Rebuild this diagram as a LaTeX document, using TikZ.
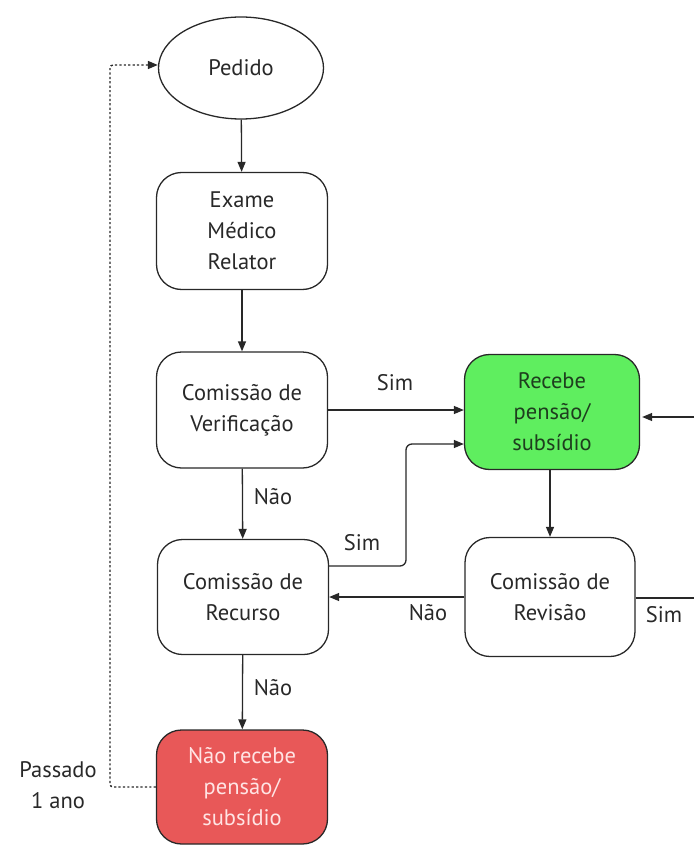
\documentclass[tikz,border=0pt]{standalone}
\usepackage{fontspec}
\setmainfont{PT Sans}
\usetikzlibrary{arrows.meta,calc,shapes.geometric}
\definecolor{boxgreen}{RGB}{95,238,95}
\definecolor{boxred}{RGB}{232,88,88}
\definecolor{redtext}{RGB}{255,228,228}
\definecolor{ink}{RGB}{40,40,40}
\definecolor{greentext}{RGB}{30,62,30}
\begin{document}
\begin{tikzpicture}[x=1pt,y=-1pt,
  every node/.style={font=\fontsize{22.5}{31}\selectfont, text=ink},
  flowbox/.style={draw=ink, line width=1.3pt, rounded corners=25pt, minimum width=171pt, minimum height=117pt, align=center, inner sep=0pt},
  conn/.style={draw=ink, line width=1.3pt, -{Triangle[length=10pt,width=8pt]}},
  plain/.style={draw=ink, line width=1.3pt},
  lbl/.style={inner sep=1pt}]
\useasboundingbox (0,0) rectangle (694,845);
\node[draw=ink, line width=1.3pt, ellipse, minimum width=165pt, minimum height=102pt, inner sep=0pt] (ped) at (241,68) {Pedido};
\node[flowbox] (exa) at (242,231) {Exame\\Médico\\Relator};
\node[flowbox, minimum height=116pt] (ver) at (242,410) {Comissão de\\Verificação};
\node[flowbox, minimum height=115pt] (rec) at (243,597) {Comissão de\\Recurso};
\node[flowbox, fill=boxred, minimum height=114pt, text=redtext] (nao) at (242,787) {Não recebe\\pensão/\\subsídio};
\node[flowbox, fill=boxgreen, minimum width=175pt, minimum height=115pt, text=greentext] (sim) at (552,412) {Recebe\\pensão/\\subsídio};
\node[flowbox, minimum width=170pt, minimum height=119pt] (rev) at (550,597) {Comissão de\\Revisão};
\coordinate (rin) at (694,417);
\coordinate (rout) at (694,598);
\coordinate (dl) at (110,787);
\coordinate (dt) at (110,65);
% connectors
\draw[conn] (ped) -- (exa);
\draw[conn] (exa) -- (ver);
\draw[conn] (ver.east) -- (ver.east -| sim.west);
\node[lbl] (s1) at (395,383) {Sim};
\draw[conn] (ver) -- (rec);
\node[lbl] (n1) at (273,497) {Não};
\draw[conn, rounded corners=6pt] ($(rec.east)+(0,-31)$) -- (406,566) -- (406,444) -- (sim.west |- 0,444);
\node[lbl] (s2) at (362,543) {Sim};
\draw[conn] (sim.south -| 550,0) -- (rev.north);
\draw[conn] (rev.west) -- (rec.east |- rev.west);
\node[lbl] (n2) at (428,613) {Não};
\draw[plain] (rev.east |- rout) -- (rout);
\node[lbl] (s3) at (664,615) {Sim};
\draw[conn] (rin) -- ($(rin -| sim.east)+(2,0)$);
\draw[conn] (rec) -- (nao);
\node[lbl] (n3) at (273,688) {Não};
\draw[conn, dash pattern=on 2.2pt off 2.2pt, line width=1.4pt, rounded corners=3pt] (nao.west) -- (dl) -- (dt) -- (ped.west |- dt);
\node[lbl, align=center] (pas) at (58,785) {Passado\\1 ano};
\end{tikzpicture}
\end{document}
